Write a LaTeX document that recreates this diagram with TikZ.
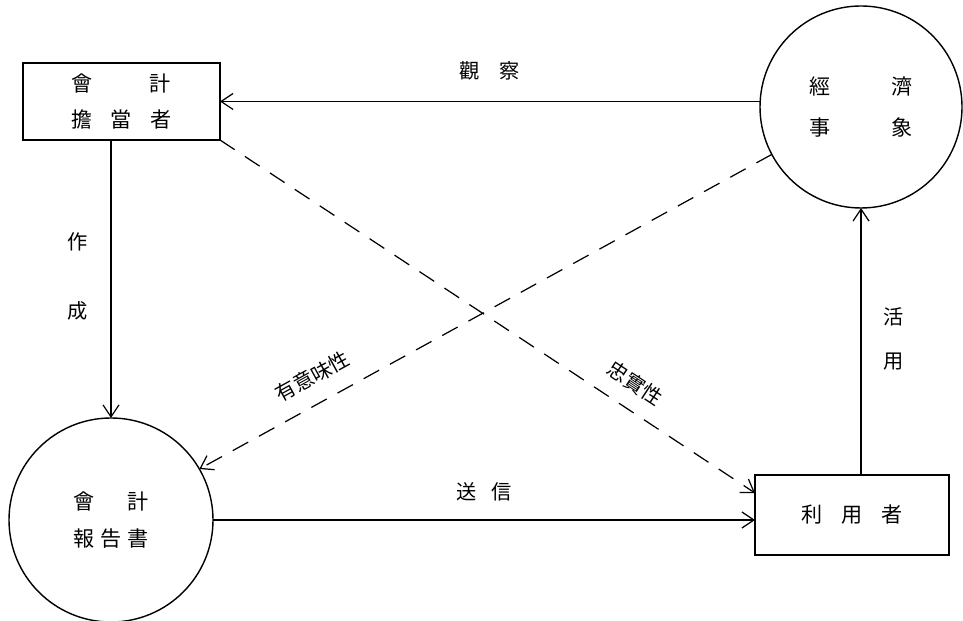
\documentclass[tikz,border=0pt]{standalone}
\usepackage{fontspec}
\usepackage{tikz}
\usetikzlibrary{arrows.meta, positioning, calc}
\newfontfamily\jfont{Noto Sans CJK JP}

\begin{document}
\begin{tikzpicture}[
    box/.style={draw, line width=0.8pt, inner sep=0pt, outer sep=0pt, align=center},
    circ/.style={draw, circle, line width=0.8pt, inner sep=0pt, outer sep=0pt, align=center},
    arr/.style={line width=0.7pt, -{Straight Barb[length=2.4mm, width=3.2mm]}},
    dasharr/.style={arr, dash pattern=on 10pt off 7pt},
    lbl/.style={font=\jfont\fontsize{11.5pt}{13pt}\selectfont, align=center}
]
    \useasboundingbox (0,0) rectangle (19.26,12.42);

    % Nodes
    \node[box, minimum width=3.94cm, minimum height=1.54cm,
          font=\jfont\fontsize{12pt}{21pt}\selectfont] (tanto) at (2.43, 10.39)
          {會\hspace{1.14cm}計\\擔\hspace{.36cm}當\hspace{.36cm}者};
    \node[circ, minimum size=4.04cm,
          font=\jfont\fontsize{12pt}{23pt}\selectfont] (jisho) at (17.22, 10.28)
          {經\hspace{1.2cm}濟\\事\hspace{1.2cm}象};
    \node[circ, minimum size=4.08cm,
          font=\jfont\fontsize{12pt}{21pt}\selectfont] (hokoku) at (2.22, 2.02)
          {會\hspace{.66cm}計\\報\hspace{.12cm}告\hspace{.12cm}書};
    \node[box, minimum width=3.88cm, minimum height=1.6cm,
          font=\jfont\fontsize{12pt}{21pt}\selectfont] (riyo) at (17.04, 2.12)
          {利\hspace{.38cm}用\hspace{.38cm}者};

    % Solid arrows
    \draw[arr] (jisho.west |- tanto.east) -- (tanto.east)
        node[midway, above=0.3cm, lbl] {觀\hspace{.4cm}察};
    \draw[arr] (tanto.south -| hokoku.north) -- (hokoku.north)
        node[pos=0.49, left=0.33cm, lbl] {作\\[26pt]成};
    \draw[arr] (hokoku.east) -- (riyo.west |- hokoku.east)
        node[midway, above=0.25cm, lbl] {送\hspace{.3cm}信};
    \draw[arr] (riyo.north -| jisho.south) -- (jisho.south)
        node[pos=0.51, right=0.33cm, lbl] {活\\[12pt]用};

    % Dashed arrows
    \draw[dasharr] (jisho.208) -- (hokoku.30)
        node[pos=0.78, above=0.22cm, sloped, lbl] {有意味性};
    \draw[dasharr] (tanto.south east) -- ([yshift=0.44cm]riyo.west)
        node[pos=0.75, above=0.2cm, sloped, lbl] {忠實性};
\end{tikzpicture}
\end{document}
